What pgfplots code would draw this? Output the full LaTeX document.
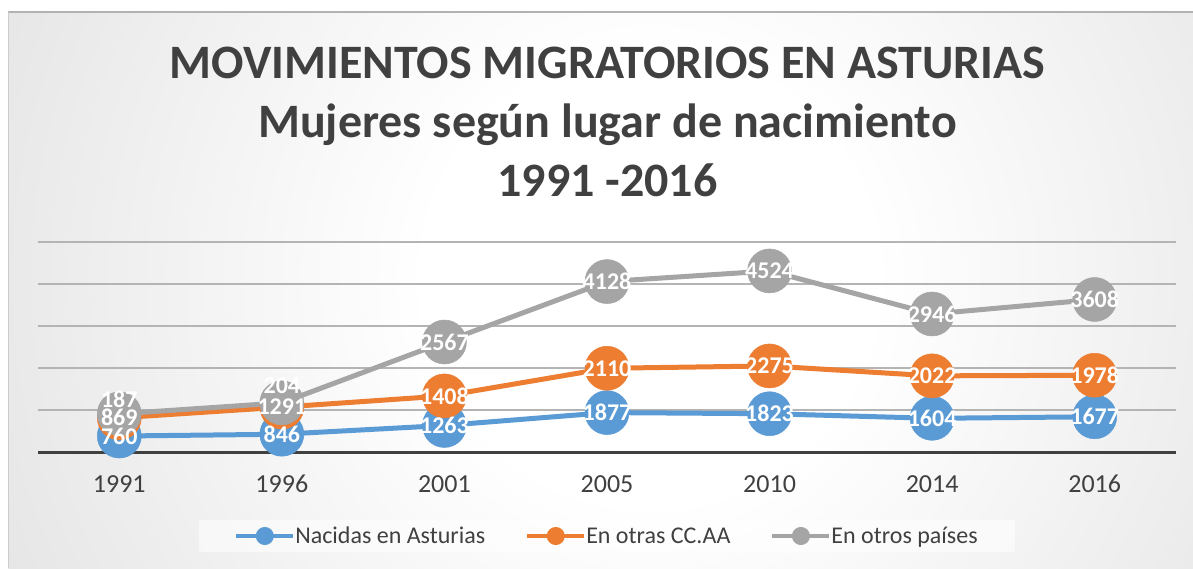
\documentclass[border=0pt]{standalone}
\usepackage{pgfplots}
\pgfplotsset{compat=1.18}
\usepackage{pgfplotstable}
\usepackage{fontspec}
\setmainfont{Carlito}
\definecolor{cblue}{HTML}{5B9BD5}
\definecolor{corange}{HTML}{ED7D31}
\definecolor{cgray}{HTML}{A5A5A5}
\definecolor{ctext}{HTML}{404040}
\definecolor{bgedge}{HTML}{C2C2C2}
\definecolor{cgrid}{HTML}{B4B4B4}
\pgfdeclareradialshading{bgshade}{\pgfpointorigin}{color(0bp)=(white); color(8bp)=(white); color(50bp)=(bgedge); color(100bp)=(bgedge)}
\pgfplotstableread{
x nac otras paises dy
0 760 869 187 15
1 846 1291 204 17
2 1263 1408 2567 0
3 1877 2110 4128 0
4 1823 2275 4524 0
5 1604 2022 2946 0
6 1677 1978 3608 0
}\data
\begin{document}
\begin{tikzpicture}
\useasboundingbox (0pt,0pt) rectangle (1193pt,568pt);
\fill[white] (0pt,0pt) rectangle (1193pt,568pt);
\fill[bgedge] (8pt,0pt) rectangle (1193pt,556pt);
\begin{scope}
\clip (8pt,0pt) rectangle (1193pt,556pt);
\shade[shading=bgshade] (-50pt,-410pt) rectangle (1350pt,990pt);
\end{scope}
\draw[gray!60, line width=1.5pt] (8pt,556pt) -- (1193pt,556pt);
\draw[gray!40, line width=1pt] (8.5pt,0pt) -- (8.5pt,556pt);
\node[anchor=base, text=ctext, font=\fontsize{48}{52}\selectfont\bfseries, inner sep=0pt] at (607.5pt,489pt) {MOVIMIENTOS MIGRATORIOS EN ASTURIAS};
\node[anchor=base, text=ctext, font=\fontsize{48}{52}\selectfont\bfseries, inner sep=0pt] at (607.5pt,430pt) {Mujeres según lugar de nacimiento};
\node[anchor=base, text=ctext, font=\fontsize{48}{52}\selectfont\bfseries, inner sep=0pt] at (607.5pt,371pt) {1991 -2016};
\begin{axis}[
  at={(38pt,116pt)}, anchor=south west,
  width=1138pt, height=210pt, scale only axis,
  xmin=-0.5, xmax=6.5, ymin=0, ymax=10000,
  clip=false,
  axis line style={draw=none},
  xtick={0,...,6},
  xticklabels={1991,1996,2001,2005,2010,2014,2016},
  ytick={2000,4000,6000,8000,10000},
  yticklabels={},
  scaled y ticks=false,
  major tick length=0pt,
  ymajorgrids,
  grid style={cgrid, line width=1.2pt},
  extra y ticks={0},
  extra y tick labels={},
  extra y tick style={grid style={ctext, line width=3pt}},
  xticklabel style={font=\fontsize{26}{28}\selectfont, text=ctext, anchor=base, yshift=-40pt},
  legend style={at={(axis description cs:0.5,-0.4)}, anchor=center,
    fill=white, fill opacity=0.55, text opacity=1, draw=none,
    font=\fontsize{24}{27}\selectfont, text=ctext,
    inner xsep=35pt, inner ysep=5pt,
    /tikz/every odd column/.append style={column sep=-2pt},
    /tikz/every even column/.append style={column sep=38pt}},
  legend columns=3,
  legend cell align=left,
  legend image code/.code={
    \draw[line width=4pt, mark=none, draw opacity=1] (0pt,0pt) -- (57pt,0pt);
    \fill[fill opacity=1] (28.5pt,0pt) circle (6.5pt);
  },
]
\addplot[color=cblue, line width=5pt, mark=*, mark size=22pt, mark options={line width=0.5pt}]
  table[x=x, y=nac] \data;
\addlegendentry{Nacidas en Asturias}
\addplot[color=corange, line width=5pt, mark=*, mark size=22pt, mark options={line width=0.5pt}]
  table[x=x, y expr=\thisrow{nac}+\thisrow{otras}] \data;
\addlegendentry{En otras CC.AA}
\addplot[color=cgray, line width=5pt, mark=*, mark size=22pt, mark options={line width=0.5pt}]
  table[x=x, y expr=\thisrow{nac}+\thisrow{otras}+\thisrow{paises}] \data;
\addlegendentry{En otros países}
\pgfplotsset{labelplot/.style={draw=none, mark=none, forget plot,
  point meta=explicit symbolic, nodes near coords,
  every node near coord/.append style={anchor=center, text=white, font=\fontsize{24}{26}\selectfont\bfseries, inner sep=0pt}}}
\addplot[labelplot] table[x=x, y=nac, meta=nac] \data;
\addplot[labelplot] table[x=x, y expr=\thisrow{nac}+\thisrow{otras}, meta=otras] \data;
\addplot[labelplot, visualization depends on={\thisrow{dy} \as \dyv},
  every node near coord/.append style={yshift=\dyv pt}]
  table[x=x, y expr=\thisrow{nac}+\thisrow{otras}+\thisrow{paises}, meta=paises] \data;
\end{axis}
\end{tikzpicture}
\end{document}
